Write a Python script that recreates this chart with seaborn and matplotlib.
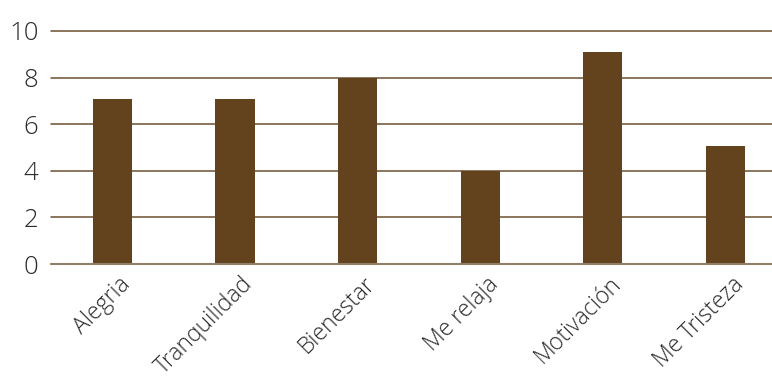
import matplotlib
matplotlib.use("Agg")
import matplotlib.pyplot as plt
import matplotlib.transforms as mtransforms
import seaborn as sns
import pandas as pd

categories = ["Alegria", "Tranquilidad", "Bienestar", "Me relaja", "Motivación", "Me Tristeza"]
values = [7.1, 7.1, 8.0, 4.0, 9.1, 5.05]
yticks = [0, 2, 4, 6, 8, 10]

df = pd.DataFrame({"cat": categories, "val": values})

sns.set_theme(style="white")
plt.rcParams['font.family'] = ['Open Sans', 'DejaVu Sans']

fig = plt.figure(figsize=(7.72, 3.88), dpi=100)
ax = fig.add_axes([51/772, 1 - 264/388, 1 - 51/772, (264 - 31)/388])

sns.barplot(data=df, x="cat", y="val", color="#63431D", saturation=1,
            width=0.32, linewidth=0, ax=ax, zorder=3)

ax.set_ylim(0, 10)
ax.set_xlim(-0.5, 5.38)
ax.set_yticks(yticks)
ax.set_yticklabels([str(t) for t in yticks], fontsize=18.5, fontweight='light', color='#2a2a2a')
for t in yticks:
    ax.axhline(t, color="#6e5033", lw=1.1, zorder=1, clip_on=False)
ax.axhline(0, color="#8f7f68", lw=1.5, zorder=4, clip_on=False)

for s in ax.spines.values():
    s.set_visible(False)
ax.tick_params(axis='y', length=0, pad=9)
ax.tick_params(axis='x', length=0, pad=6)
ax.set_xlabel("")
ax.set_ylabel("")
ax.set_xticks(range(len(categories)))
ax.set_xticklabels(categories, rotation=45, ha='right', rotation_mode='anchor',
                   fontsize=16.5, fontweight='light', color='#2a2a2a')
offset = mtransforms.ScaledTranslation(6/100, 0, fig.dpi_scale_trans)
for lbl in ax.get_xticklabels():
    lbl.set_transform(lbl.get_transform() + offset)

fig.savefig("out.png", dpi=100)
